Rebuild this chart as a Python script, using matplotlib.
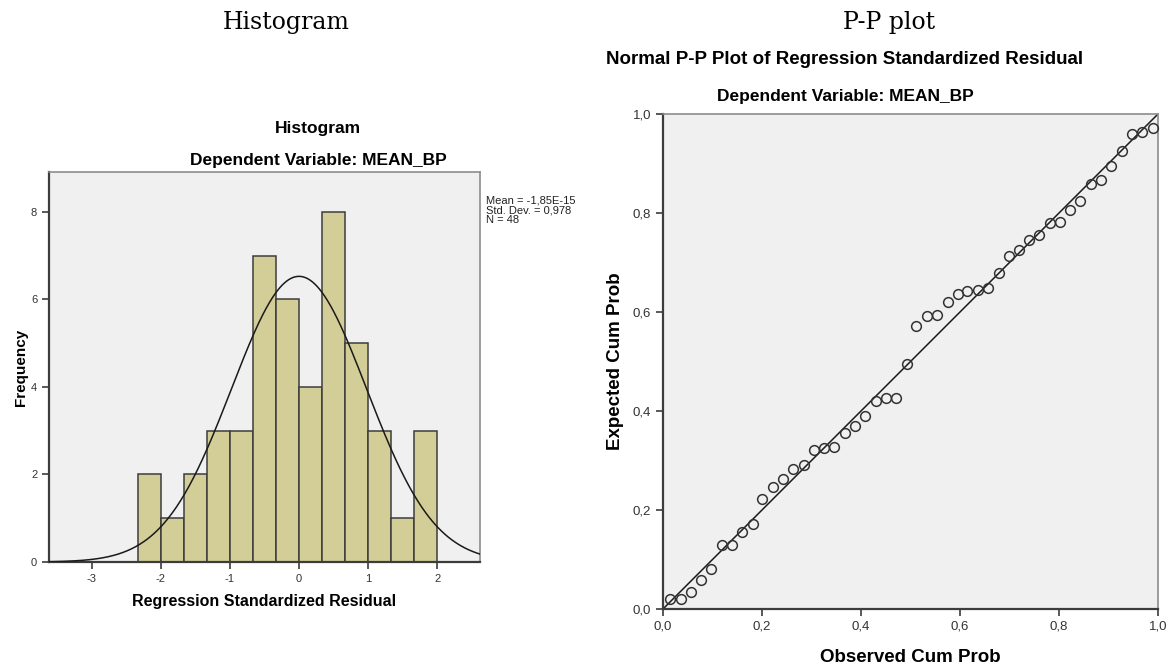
import numpy as np
import matplotlib.pyplot as plt
from matplotlib.ticker import FuncFormatter

# histogram of standardized residuals
bin_edges = [-2.333, -2.0, -1.667, -1.333, -1.0, -0.667, -0.333, 0.0,
             0.333, 0.667, 1.0, 1.333, 1.667, 2.0]
counts = [2, 1, 2, 3, 3, 7, 6, 4, 8, 5, 3, 1, 3]
res_mean = -1.85e-15
res_std = 0.978
n_obs = 48

# normal P-P plot points
obs_cum = [0.014, 0.036, 0.057, 0.077, 0.098, 0.119, 0.140, 0.160, 0.181, 0.201,
           0.222, 0.242, 0.263, 0.284, 0.305, 0.326, 0.346, 0.368, 0.388, 0.409,
           0.430, 0.450, 0.471, 0.492, 0.511, 0.533, 0.554, 0.575, 0.595, 0.615,
           0.636, 0.657, 0.678, 0.699, 0.719, 0.740, 0.760, 0.781, 0.802, 0.822,
           0.842, 0.864, 0.885, 0.906, 0.927, 0.948, 0.968, 0.989]
exp_cum = [0.020, 0.020, 0.034, 0.059, 0.080, 0.129, 0.129, 0.155, 0.171, 0.223,
           0.247, 0.262, 0.283, 0.290, 0.321, 0.325, 0.327, 0.356, 0.369, 0.390,
           0.420, 0.426, 0.426, 0.495, 0.572, 0.591, 0.594, 0.621, 0.637, 0.642,
           0.645, 0.648, 0.679, 0.713, 0.725, 0.745, 0.756, 0.780, 0.782, 0.806,
           0.824, 0.858, 0.867, 0.894, 0.925, 0.960, 0.963, 0.971]

plt.rcParams['font.family'] = ['Liberation Sans', 'DejaVu Sans']
plt.rcParams['axes.unicode_minus'] = False
bg = '#f0f0f0'
bar_col = '#d3ce97'
dark = '#3c3c3c'

fig = plt.figure(figsize=(11.73, 6.68), dpi=100)

fig.text(286/1173, 1 - 22/668, 'Histogram', family='DejaVu Serif', fontsize=17,
         ha='center', va='center')
fig.text(889/1173, 1 - 22/668, 'P-P plot', family='DejaVu Serif', fontsize=17,
         ha='center', va='center')


def comma(v, pos):
    return ('%.1f' % v).replace('.', ',')


def style_axes(ax):
    ax.set_facecolor(bg)
    for s in ['top', 'right']:
        ax.spines[s].set_color('#8c8c8c')
        ax.spines[s].set_linewidth(1.2)
    for s in ['left', 'bottom']:
        ax.spines[s].set_color(dark)
        ax.spines[s].set_linewidth(1.6)
    ax.tick_params(direction='out', length=5, width=1.2, color=dark,
                   labelcolor='#333333')


# ---- histogram
ax1 = fig.add_axes([0.0418, 0.1587, 0.3674, 0.5838])
style_axes(ax1)
widths = np.diff(bin_edges)
ax1.bar(bin_edges[:-1], counts, width=widths, align='edge', color=bar_col,
        edgecolor=dark, linewidth=1.1, zorder=2)
xx = np.linspace(-3.62, 2.62, 400)
bw = np.mean(widths)
yy = n_obs * bw / (res_std * np.sqrt(2*np.pi)) * np.exp(-0.5*((xx - res_mean)/res_std)**2)
ax1.plot(xx, yy, color='#1a1a1a', lw=1.1, zorder=3)
ax1.set_xlim(-3.62, 2.62)
ax1.set_ylim(0, 8.91)
ax1.set_xticks([-3, -2, -1, 0, 1, 2])
ax1.set_yticks([0, 2, 4, 6, 8])
ax1.tick_params(labelsize=8)
ax1.set_xlabel('Regression Standardized Residual', fontsize=11.5,
               fontweight='bold', labelpad=7)
ax1.set_ylabel('Frequency', fontsize=11, fontweight='bold', labelpad=2)
hist_cx = 318/1173
fig.text(hist_cx, 1 - 160/668, 'Dependent Variable: MEAN_BP', ha='center',
         va='center', fontsize=12.5, fontweight='bold')
fig.text(hist_cx, 1 - 129/668, 'Histogram', ha='center', va='center',
         fontsize=12.5, fontweight='bold')
ax1.text(1.015, 0.94, 'Mean = -1,85E-15\nStd. Dev. = 0,978\nN = 48',
         transform=ax1.transAxes, ha='left', va='top', fontsize=8,
         linespacing=0.95, color='#222222')

# ---- P-P plot
ax2 = fig.add_axes([0.5652, 0.0883, 0.4220, 0.7410])
style_axes(ax2)
ax2.plot([0, 1], [0, 1], color='#1a1a1a', lw=1.1, zorder=2)
ax2.plot(obs_cum, exp_cum, 'o', mfc='none', mec='#333333', mew=1.1, ms=7,
         zorder=3, clip_on=False)
ax2.set_xlim(0, 1)
ax2.set_ylim(0, 1)
ticks = [0, 0.2, 0.4, 0.6, 0.8, 1.0]
ax2.set_xticks(ticks)
ax2.set_yticks(ticks)
ax2.xaxis.set_major_formatter(FuncFormatter(comma))
ax2.yaxis.set_major_formatter(FuncFormatter(comma))
ax2.tick_params(labelsize=9.5)
ax2.set_xlabel('Observed Cum Prob', fontsize=13.5, fontweight='bold', labelpad=12)
ax2.set_ylabel('Expected Cum Prob', fontsize=13.5, fontweight='bold', labelpad=6)
pp_cx = 845/1173
fig.text(pp_cx, 1 - 97/668, 'Dependent Variable: MEAN_BP', ha='center',
         va='center', fontsize=12.5, fontweight='bold')
fig.text(pp_cx, 1 - 60/668, 'Normal P-P Plot of Regression Standardized Residual',
         ha='center', va='center', fontsize=13.5, fontweight='bold')

fig.savefig('out.png', dpi=100)
